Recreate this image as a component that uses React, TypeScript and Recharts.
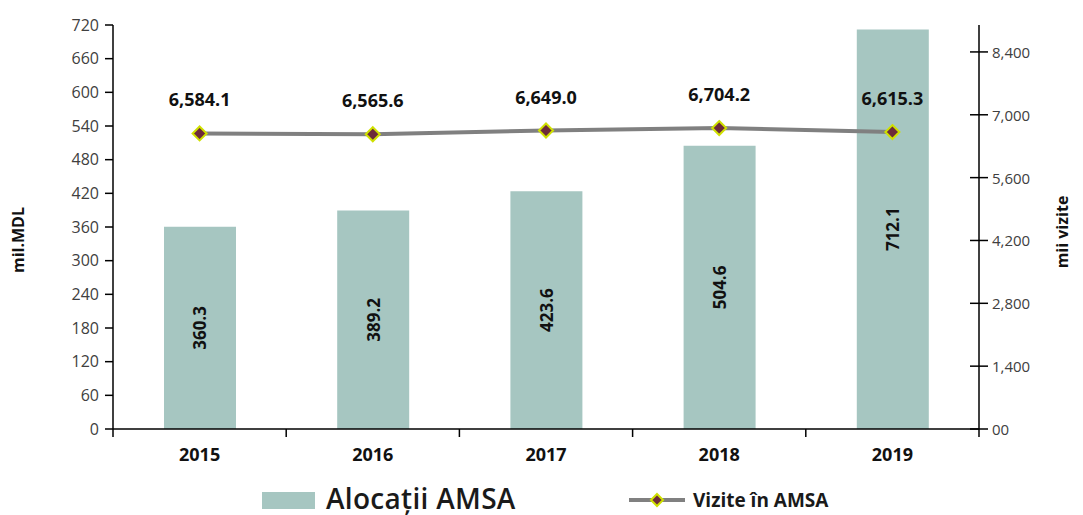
import React from 'react';
import { ComposedChart, Bar, Line, XAxis, YAxis, LabelList, Legend } from 'recharts';

const years = ['2015', '2016', '2017', '2018', '2019'];
const alocatii = [360.3, 389.2, 423.6, 504.6, 712.1];
const vizite = [6584.1, 6565.6, 6649.0, 6704.2, 6615.3];
const leftTicks = [0, 60, 120, 180, 240, 300, 360, 420, 480, 540, 600, 660, 720];
const rightTicks = [0, 1400, 2800, 4200, 5600, 7000, 8400];

const data = years.map((y, i) => ({ year: y, alocatii: alocatii[i], vizite: vizite[i] }));

const FONT = '"Open Sans", "Noto Sans", sans-serif';
const BAR = '#a6c6c1';
const LINE = '#808080';

const Diamond = (props: any) => {
  const { cx, cy } = props;
  if (cx == null || cy == null) return null;
  return (
    <polygon
      points={`${cx},${cy - 7} ${cx + 7},${cy} ${cx},${cy + 7} ${cx - 7},${cy}`}
      fill="#6d2b3a"
      stroke="#cfe000"
      strokeWidth={2}
    />
  );
};

const BottomTick = (props: any) => {
  const { x, y, payload, index } = props;
  const half = payload.offset || 0;
  const last = index === years.length - 1;
  return (
    <g>
      <line x1={x - half} x2={x - half} y1={y} y2={y + 8} stroke="#000" strokeWidth={1.5} />
      {last && <line x1={x + half} x2={x + half} y1={y} y2={y + 8} stroke="#000" strokeWidth={1.5} />}
      <text x={x} y={y + 32} textAnchor="middle" fontFamily={FONT} fontSize={18} fontWeight={700} fill="#111">
        {payload.value}
      </text>
    </g>
  );
};

const RightTick = (props: any) => {
  const { x, y, payload } = props;
  const v = payload.value;
  const label = v === 0 ? '00' : v.toLocaleString('en-US');
  return (
    <g>
      <line x1={x - 9} x2={x + 9} y1={y} y2={y} stroke="#000" strokeWidth={1.5} />
      <text x={x + 13} y={y + 6} textAnchor="start" fontFamily={FONT} fontSize={15} fill="#404040">
        {label}
      </text>
    </g>
  );
};

const BarLabel = (props: any) => {
  const { x, y, width, height, value } = props;
  const cx = x + width / 2;
  const cy = y + height / 2;
  return (
    <text
      x={cx}
      y={cy}
      transform={`rotate(-90, ${cx}, ${cy})`}
      textAnchor="middle"
      dominantBaseline="central"
      fontFamily={FONT}
      fontSize={17}
      fontWeight={700}
      fill="#111"
    >
      {Number(value).toFixed(1)}
    </text>
  );
};

const LineLabel = (props: any) => {
  const { x, y, value } = props;
  return (
    <text x={x} y={y - 27} textAnchor="middle" fontFamily={FONT} fontSize={18} fontWeight={700} fill="#111">
      {Number(value).toLocaleString('en-US', { minimumFractionDigits: 1, maximumFractionDigits: 1 })}
    </text>
  );
};

const LegendContent = () => (
  <div style={{ position: 'relative', width: 1083, height: 46 }}>
    <div style={{ position: 'absolute', left: 262, top: 23, width: 53, height: 17, background: BAR }} />
    <div
      style={{
        position: 'absolute',
        left: 326,
        top: 12,
        fontFamily: FONT,
        fontSize: 28,
        fontWeight: 600,
        color: '#1a1a1a',
        lineHeight: '34px',
        whiteSpace: 'nowrap',
        letterSpacing: 0.3,
      }}
    >
      Alocații AMSA
    </div>
    <svg style={{ position: 'absolute', left: 628, top: 22 }} width={58} height={18}>
      <line x1={1} x2={57} y1={9} y2={9} stroke={LINE} strokeWidth={4} />
      <polygon points="29,3 35,9 29,15 23,9" fill="#6d2b3a" stroke="#cfe000" strokeWidth={2} />
    </svg>
    <div
      style={{
        position: 'absolute',
        left: 693,
        top: 19,
        fontFamily: FONT,
        fontSize: 19,
        fontWeight: 700,
        color: '#1a1a1a',
        lineHeight: '24px',
        whiteSpace: 'nowrap',
      }}
    >
      Vizite în AMSA
    </div>
  </div>
);

export default function App() {
  return (
    <div style={{ position: 'absolute', left: 0, top: 0, background: '#fff' }}>
      <ComposedChart
        width={1083}
        height={515}
        data={data}
        margin={{ top: 25, right: 0, bottom: 0, left: 0 }}
      >
        <XAxis
          dataKey="year"
          type="category"
          height={40}
          tickSize={0}
          tickMargin={0}
          tickLine={false}
          tick={<BottomTick />}
          axisLine={{ stroke: '#000', strokeWidth: 1.5 }}
          interval={0}
        />
        <YAxis
          yAxisId="left"
          orientation="left"
          width={113}
          domain={[0, 720]}
          ticks={leftTicks}
          interval={0}
          tickSize={8}
          tickMargin={6}
          tickLine={{ stroke: '#000', strokeWidth: 1.5 }}
          axisLine={{ stroke: '#000', strokeWidth: 1.5 }}
          tick={{ fontFamily: FONT, fontSize: 16, fill: '#404040' }}
          label={{
            content: (p: any) => {
              const vb = p.viewBox;
              const x = vb.x + 18;
              const y = vb.y + vb.height / 2 + 13;
              return (
                <text
                  x={x}
                  y={y}
                  transform={`rotate(-90, ${x}, ${y})`}
                  textAnchor="middle"
                  dominantBaseline="central"
                  fontFamily={FONT}
                  fontSize={16}
                  fontWeight={700}
                  fill="#111"
                >
                  mil.MDL
                </text>
              );
            },
          }}
        />
        <YAxis
          yAxisId="right"
          orientation="right"
          width={104}
          domain={[0, 9000]}
          ticks={rightTicks}
          interval={0}
          tickSize={0}
          tickMargin={0}
          tickLine={false}
          tick={<RightTick />}
          axisLine={{ stroke: '#000', strokeWidth: 1.5 }}
          label={{
            content: (p: any) => {
              const vb = p.viewBox;
              const x = vb.x + 83;
              const y = vb.y + vb.height / 2 + 5;
              return (
                <text
                  x={x}
                  y={y}
                  transform={`rotate(-90, ${x}, ${y})`}
                  textAnchor="middle"
                  dominantBaseline="central"
                  fontFamily={FONT}
                  fontSize={16}
                  fontWeight={700}
                  fill="#111"
                >
                  mii vizite
                </text>
              );
            },
          }}
        />
        <Legend
          verticalAlign="bottom"
          height={46}
          content={<LegendContent />}
          wrapperStyle={{ left: 0, width: 1083 }}
        />
        <Bar yAxisId="left" dataKey="alocatii" fill={BAR} barSize={72} isAnimationActive={false}>
          <LabelList dataKey="alocatii" content={<BarLabel />} />
        </Bar>
        <Line
          yAxisId="right"
          dataKey="vizite"
          stroke={LINE}
          strokeWidth={4}
          dot={<Diamond />}
          activeDot={false}
          isAnimationActive={false}
        >
          <LabelList dataKey="vizite" content={<LineLabel />} />
        </Line>
      </ComposedChart>
    </div>
  );
}
